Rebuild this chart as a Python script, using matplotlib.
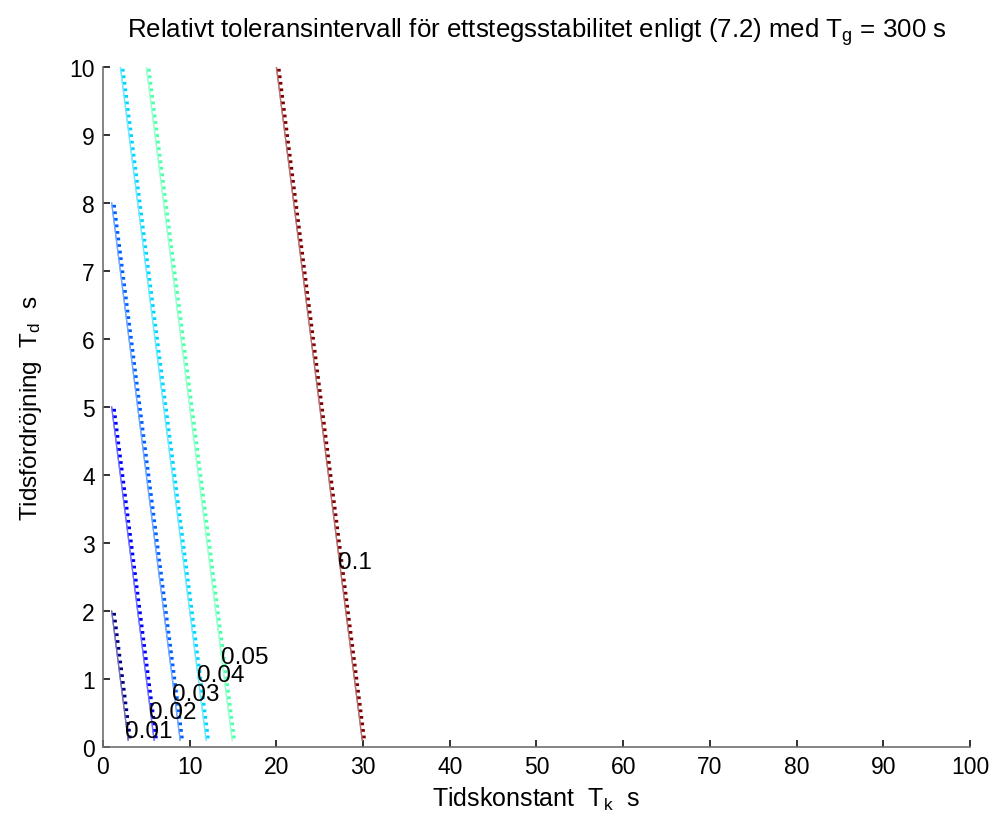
import numpy as np
import matplotlib.pyplot as plt
from matplotlib import patheffects as pe
from matplotlib.colors import Normalize, to_rgb

# contour levels and the end points of each (straight) contour line
levels = [0.01, 0.02, 0.03, 0.04, 0.05, 0.1]
tk_top = [1.0, 1.0, 1.0, 2.0, 5.0, 20.0]
td_top = [2.0, 5.0, 8.0, 10.0, 10.0, 10.0]
tk_bot = [2.9, 5.9, 8.9, 11.9, 14.9, 29.9]
td_bot = [0.1, 0.1, 0.1, 0.1, 0.1, 0.1]
label_x = [2.5, 5.3, 8.0, 10.8, 13.6, 27.1]
label_y = [0.24, 0.51, 0.78, 1.06, 1.33, 2.72]
level_text = ['0.01', '0.02', '0.03', '0.04', '0.05', '0.1']

plt.rcParams['font.family'] = ['Liberation Sans', 'DejaVu Sans']
plt.rcParams['mathtext.default'] = 'regular'

fig = plt.figure(figsize=(9.97, 8.28), dpi=100)
ax = fig.add_axes([0.1033, 0.0966, 0.8696, 0.8213])

cmap = plt.get_cmap('jet')
norm = Normalize(min(levels), max(levels))

for i, lev in enumerate(levels):
    c = np.array(to_rgb(cmap(norm(lev))))
    light = c * 0.55 + 0.45
    ax.plot([tk_top[i], tk_bot[i]], [td_top[i], td_bot[i]], color=light, lw=0.9,
            path_effects=[pe.Normal(),
                          pe.withTickedStroke(spacing=4.7, angle=82.7, length=0.6,
                                              foreground=c, linewidth=2.0,
                                              capstyle='butt')])
    ax.text(label_x[i], label_y[i], level_text[i], fontsize=17.5, ha='left', va='center')

ax.set_xlim(0, 100)
ax.set_ylim(0, 10)
ax.set_xticks(np.arange(0, 101, 10))
ax.set_yticks(np.arange(0, 11, 1))
ax.tick_params(direction='in', length=5, width=1.3, labelsize=16.5, pad=6, color='#222222')
for s in ['top', 'right']:
    ax.spines[s].set_visible(False)
for s in ['left', 'bottom']:
    ax.spines[s].set_color('#707070')
    ax.spines[s].set_linewidth(1.2)

ax.set_title('Relativt toleransintervall för ettstegsstabilitet enligt (7.2) med T$_g$ = 300 s',
             fontsize=18.6, pad=22)
ax.set_xlabel('Tidskonstant  T$_k$  s', fontsize=18, labelpad=5)
ax.set_ylabel('Tidsfördröjning  T$_d$  s', fontsize=17.5, labelpad=18)

fig.savefig('out.png', dpi=100)
